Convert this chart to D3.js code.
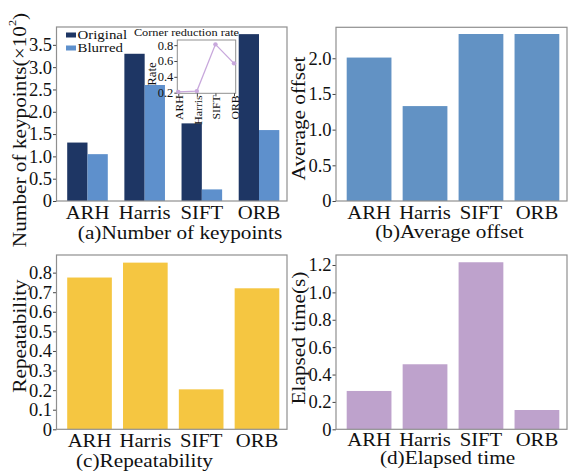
<!DOCTYPE html>
<html>
<head>
<meta charset="utf-8">
<script src="https://cdn.jsdelivr.net/npm/d3@7"></script>
<style>
  html, body { margin: 0; padding: 0; background: #fff; }
  svg { display: block; }
  svg text { font-family: "Liberation Serif", "Times New Roman", serif; }
  .frame { fill: none; stroke: #8f8f8f; stroke-width: 1.2; }
  .axis path.domain { display: none; }
  .axis line { stroke: #444; }
  .axis text { fill: #111; font-family: "Liberation Serif", "Times New Roman", serif; }
</style>
</head>
<body>
<div id="chart"></div>
<script>
// Data
const methods = ["ARH", "Harris", "SIFT", "ORB"];
const original = [1.31, 3.30, 1.74, 3.74];   // x10^2 keypoints
const blurred = [1.05, 2.60, 0.26, 1.59];
const reductionRate = [0.21, 0.22, 0.81, 0.57];
const avgOffset = [2.01, 1.33, 2.34, 2.34];
const repeatability = [0.775, 0.851, 0.204, 0.72];
const elapsed = [0.28, 0.475, 1.22, 0.141];

const ticksA = [0, 0.5, 1.0, 1.5, 2.0, 2.5, 3.0, 3.5];
const ticksB = [0, 0.5, 1.0, 1.5, 2.0];
const ticksC = [0, 0.1, 0.2, 0.3, 0.4, 0.5, 0.6, 0.7, 0.8];
const ticksD = [0, 0.2, 0.4, 0.6, 0.8, 1.0, 1.2];
const ticksInset = [0.2, 0.4, 0.6, 0.8];

const COLORS = {
  original: "#1e3664",
  blurred: "#5e90cc",
  offset: "#6292c4",
  repeat: "#f5c641",
  time: "#bea2cc",
  rate: "#c8a8dc",
};

const W = 569, H = 472;
const SX = 1.12; // the source font is a bit wider than Times
const FS = 18.5;

const svg = d3.select("#chart").append("svg")
  .attr("width", W).attr("height", H);

const fmt = (d) => (d === 0 ? "0" : d3.format(".1f")(d));

// text helper: stretched serif text, optionally rotated
function label(g, x, y, s, size, opts = {}) {
  const rot = opts.rotate ? ` rotate(${opts.rotate})` : "";
  return g.append("text")
    .attr("transform", `translate(${x},${y})${rot} scale(${SX},1)`)
    .attr("text-anchor", opts.anchor || "middle")
    .attr("dominant-baseline", opts.baseline || "auto")
    .attr("font-size", size)
    .attr("fill", "#111")
    .text(s);
}

// A bar panel: frame, y axis, x labels, titles
function panel(cfg) {
  const { left, right, top, bottom } = cfg.box;
  const g = svg.append("g");

  const x = d3.scaleBand()
    .domain(methods)
    .range([left + 10.7, right - 7.7])
    .paddingInner(cfg.padding);

  const y = d3.scaleLinear().domain(cfg.yDomain).range([bottom, top]);

  g.append("g")
    .attr("class", "axis")
    .attr("transform", `translate(${left},0)`)
    .call(d3.axisLeft(y).tickValues(cfg.ticks).tickSize(3.5).tickPadding(1).tickFormat(fmt))
    .call((a) => a.selectAll("text").attr("font-size", FS));

  g.append("g")
    .attr("class", "axis")
    .attr("transform", `translate(0,${bottom})`)
    .call(d3.axisBottom(x).tickSize(0).tickPadding(cfg.labelPad || 5))
    .call((a) => a.selectAll("text")
      .attr("font-size", FS)
      .attr("transform", `scale(${SX},1)`));

  cfg.draw(g, x, y);

  g.append("rect")
    .attr("class", "frame")
    .attr("x", left).attr("y", top)
    .attr("width", right - left).attr("height", bottom - top);

  if (cfg.ytitle.text) {
    label(g, cfg.ytitle.x, cfg.ytitle.y, cfg.ytitle.text, 19,
      { rotate: -90, baseline: "central" });
  }
  label(g, cfg.title.x, cfg.title.y, cfg.title.text, 19);
  return { g, x, y };
}

// (a) Number of keypoints, grouped bars
const pa = panel({
  box: { left: 56.5, right: 287, top: 27, bottom: 201 },
  yDomain: [0, 3.9],
  ticks: ticksA,
  padding: 0.29,
  ytitle: { x: 20, y: 130, text: "" },
  title: { x: 180, y: 239, text: "(a)Number of keypoints" },
  draw(g, x, y) {
    const sub = d3.scaleBand().domain(["original", "blurred"]).range([0, x.bandwidth()]);
    const rows = methods.map((m, i) => ({ m, original: original[i], blurred: blurred[i] }));
    g.append("g").selectAll("g")
      .data(rows)
      .join("g")
      .attr("transform", (d) => `translate(${x(d.m)},0)`)
      .selectAll("rect")
      .data((d) => ["original", "blurred"].map((k) => ({ k, v: d[k] })))
      .join("rect")
      .attr("x", (d) => sub(d.k))
      .attr("width", sub.bandwidth())
      .attr("y", (d) => y(d.v))
      .attr("height", (d) => y(0) - y(d.v))
      .attr("fill", (d) => COLORS[d.k]);
  },
});

// y title with superscript for (a)
{
  const t = pa.g.append("text")
    .attr("transform", `translate(19.5,130) rotate(-90) scale(${SX},1)`)
    .attr("text-anchor", "middle")
    .attr("dominant-baseline", "central")
    .attr("font-size", 19)
    .attr("fill", "#111");
  t.append("tspan").text("Number of keypoints(×10");
  t.append("tspan").attr("font-size", 11).attr("dy", -7).text("2");
  t.append("tspan").attr("dy", 7).text(")");
}

// legend
const legend = pa.g.append("g");
[["Original", "original", 39], ["Blurred", "blurred", 52]].forEach(([name, key, yb]) => {
  legend.append("rect")
    .attr("x", 66).attr("y", yb - 6.5).attr("width", 10).attr("height", 5)
    .attr("fill", COLORS[key]);
  label(legend, 77.5, yb, name, 13.3, { anchor: "start" });
});

// inset: corner reduction rate
{
  const box = { left: 177.3, right: 235.7, top: 40, bottom: 93.3 };
  const gi = pa.g.append("g");
  const xi = d3.scalePoint().domain(methods).range([178.3, 234]);
  const yi = d3.scaleLinear().domain([0.192, 0.865]).range([box.bottom, box.top]);

  gi.append("rect")
    .attr("x", box.left).attr("y", box.top)
    .attr("width", box.right - box.left).attr("height", box.bottom - box.top)
    .attr("fill", "#fff").attr("stroke", "#8f8f8f").attr("stroke-width", 1);

  gi.append("g")
    .attr("class", "axis")
    .attr("transform", `translate(${box.left},0)`)
    .call(d3.axisLeft(yi).tickValues(ticksInset).tickSize(3).tickPadding(1).tickFormat(d3.format(".1f")))
    .call((a) => a.selectAll("text").attr("font-size", 12.5));

  gi.append("g")
    .attr("class", "axis")
    .attr("transform", `translate(0,${box.bottom})`)
    .call(d3.axisBottom(xi).tickSize(3).tickFormat(""));

  methods.forEach((m) => {
    label(gi, xi(m) + 1, box.bottom + 2, m, 10.5,
      { rotate: -90, anchor: "end", baseline: "central" });
  });

  const pts = methods.map((m, i) => [xi(m), yi(reductionRate[i])]);
  gi.append("path")
    .attr("d", d3.line()(pts))
    .attr("fill", "none")
    .attr("stroke", COLORS.rate)
    .attr("stroke-width", 1.3);
  gi.selectAll("circle")
    .data(pts)
    .join("circle")
    .attr("cx", (d) => d[0]).attr("cy", (d) => d[1])
    .attr("r", 2.2)
    .attr("fill", COLORS.rate);

  label(gi, 152.5, 74, "Rate", 11.5, { rotate: -90, baseline: "central" });
  label(gi, 186.5, 35.5, "Corner reduction rate", 11);
}

// simple bar panels
function bars(values, color) {
  return (g, x, y) => {
    g.append("g").selectAll("rect")
      .data(methods.map((m, i) => ({ m, v: values[i] })))
      .join("rect")
      .attr("x", (d) => x(d.m))
      .attr("width", x.bandwidth())
      .attr("y", (d) => y(d.v))
      .attr("height", (d) => y(0) - y(d.v))
      .attr("fill", color);
  };
}

panel({
  box: { left: 336, right: 567, top: 27.3, bottom: 201 },
  yDomain: [0, 2.434],
  ticks: ticksB,
  padding: 0.2,
  ytitle: { x: 298, y: 118.5, text: "Average offset" },
  title: { x: 449.5, y: 238, text: "(b)Average offset" },
  draw: bars(avgOffset, COLORS.offset),
});

panel({
  box: { left: 56.5, right: 287, top: 255, bottom: 429.3 },
  yDomain: [0, 0.89],
  ticks: ticksC,
  padding: 0.2,
  labelPad: 5,
  ytitle: { x: 19, y: 336, text: "Repeatability" },
  title: { x: 144.5, y: 466.5, text: "(c)Repeatability" },
  draw: bars(repeatability, COLORS.repeat),
});

panel({
  box: { left: 336, right: 567, top: 255, bottom: 429.3 },
  yDomain: [0, 1.273],
  ticks: ticksD,
  padding: 0.2,
  labelPad: 3.5,
  ytitle: { x: 298, y: 338, text: "Elapsed time(s)" },
  title: { x: 447.5, y: 464, text: "(d)Elapsed time" },
  draw: bars(elapsed, COLORS.time),
});
</script>
</body>
</html>
